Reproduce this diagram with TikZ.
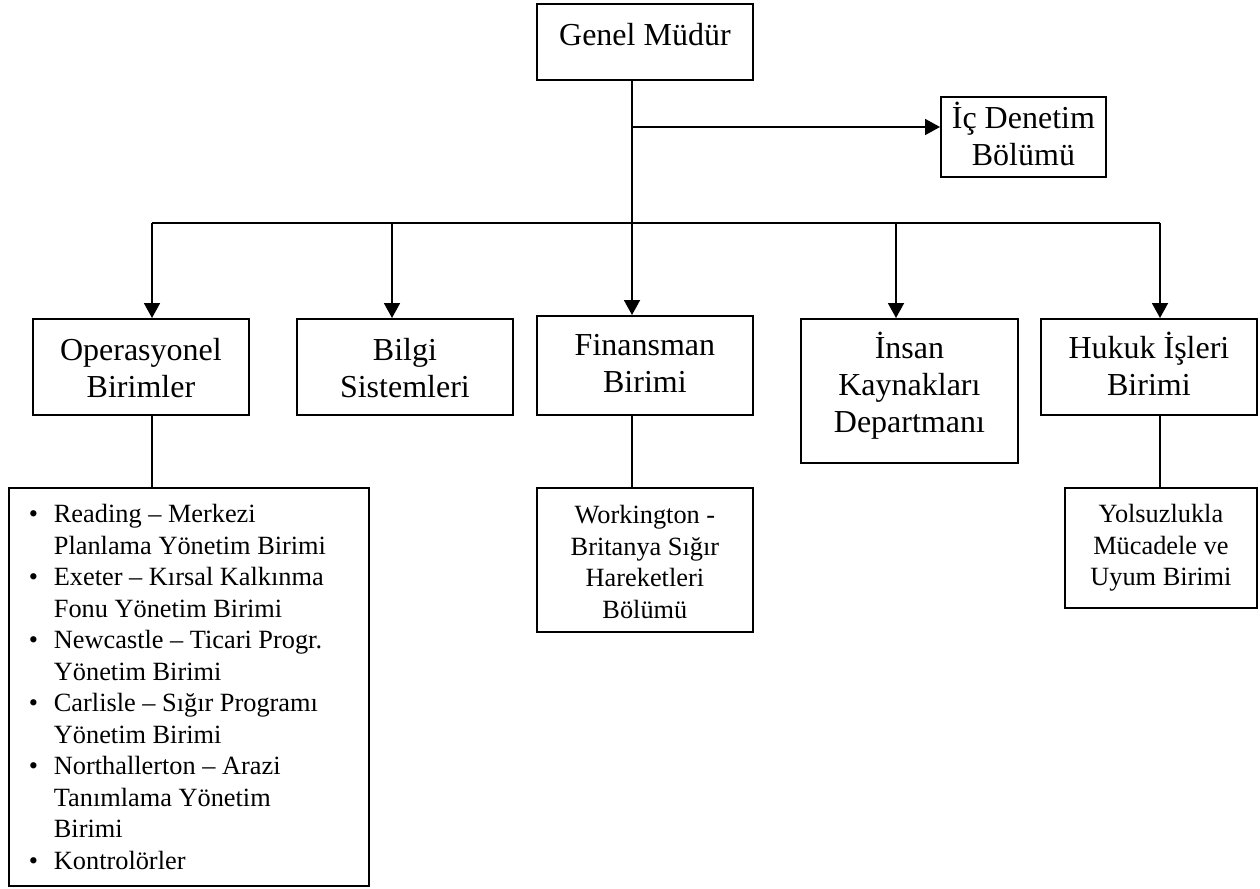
\documentclass[tikz,border=0pt]{standalone}
\usepackage{fontspec}
\setmainfont{Liberation Serif}
\usetikzlibrary{arrows.meta}

% one drawing unit = 0.6pt
\newlength\unitpx
\setlength\unitpx{0.6pt}
\newcommand\bigfont{\fontsize{19.2pt}{22pt}\selectfont}
\newcommand\smallfont{\fontsize{15.8pt}{18.9pt}\selectfont}
% box contents: width, height, first-baseline offset, text (top aligned, centred)
\newcommand\bxt[4]{\parbox[c][#2\unitpx][t]{#1\unitpx}{\centering\rule{0pt}{#3\unitpx}#4}}
% indentation helpers for the bullet list
\newcommand\bitem{\hspace*{20\unitpx}\makebox[25\unitpx][l]{\textbullet}}
\newcommand\bcont{\hspace*{45\unitpx}}

\tikzset{
  unit/.style={draw, line width=1.1pt, inner sep=0pt, anchor=north west},
  link/.style={line width=1.1pt},
  arr/.style={line width=1.1pt, -{Triangle[width=9.6pt,length=9pt]}},
}

\begin{document}
\begin{tikzpicture}[x=0.6pt, y=-0.6pt]
\useasboundingbox (0,0) rectangle (1260,889);

% top level
\node[unit, font=\bigfont] (gm) at (536,3) {\bxt{216}{76}{42}{Genel Müdür}};
\node[unit, font=\bigfont] (ic) at (940,96) {\bxt{165}{80}{32}{İç Denetim\\Bölümü}};

% departments
\node[unit, font=\bigfont] (op) at (32,318)   {\bxt{216}{96}{42}{Operasyonel\\Birimler}};
\node[unit, font=\bigfont] (bs) at (296,318)  {\bxt{216}{96}{42}{Bilgi\\Sistemleri}};
\node[unit, font=\bigfont] (fn) at (536,315)  {\bxt{216}{99}{40}{Finansman\\Birimi}};
\node[unit, font=\bigfont] (ik) at (800,318)  {\bxt{217}{144}{40}{İnsan\\Kaynakları\\Departmanı}};
\node[unit, font=\bigfont] (hk) at (1040,318) {\bxt{216}{96}{40}{Hukuk İşleri\\Birimi}};

% sub units
\node[unit, font=\smallfont] (ls) at (8,487) {\parbox[c][398\unitpx][t]{360\unitpx}{%
  \rule{0pt}{35\unitpx}\bitem Reading – Merkezi\\
  \bcont Planlama Yönetim Birimi\\
  \bitem Exeter – Kırsal Kalkınma\\
  \bcont Fonu Yönetim Birimi\\
  \bitem Newcastle – Ticari Progr.\\
  \bcont Yönetim Birimi\\
  \bitem Carlisle – Sığır Programı\\
  \bcont Yönetim Birimi\\
  \bitem Northallerton – Arazi\\
  \bcont Tanımlama Yönetim\\
  \bcont Birimi\\
  \bitem Kontrolörler}};
\node[unit, font=\smallfont] (wk) at (536,487)  {\bxt{216}{144}{36}{Workington -\\Britanya Sığır\\Hareketleri\\Bölümü}};
\node[unit, font=\smallfont] (ys) at (1064,487) {\bxt{192}{120}{35}{Yolsuzlukla\\Mücadele ve\\Uyum Birimi}};

% connector points
\coordinate (s0) at (632,79);
\coordinate (t0) at (632,127);
\coordinate (b1) at (152,223);
\coordinate (b2) at (392,223);
\coordinate (b3) at (632,223);
\coordinate (b4) at (896,223);
\coordinate (b5) at (1160,223);

% trunk, side branch and bus
\draw[link] (s0 |- gm.south) -- (b3);
\draw[arr] (t0) -- (t0 -| ic.west);
\draw[link] (b1) -- (b5);

% arrows into the departments
\draw[arr] (b1) -- (b1 |- op.north);
\draw[arr] (b2) -- (b2 |- bs.north);
\draw[arr] (b3) -- (b3 |- fn.north);
\draw[arr] (b4) -- (b4 |- ik.north);
\draw[arr] (b5) -- (b5 |- hk.north);

% departments to their sub units
\draw[link] (b1 |- op.south) -- (b1 |- ls.north);
\draw[link] (b3 |- fn.south) -- (b3 |- wk.north);
\draw[link] (b5 |- hk.south) -- (b5 |- ys.north);
\end{tikzpicture}
\end{document}
